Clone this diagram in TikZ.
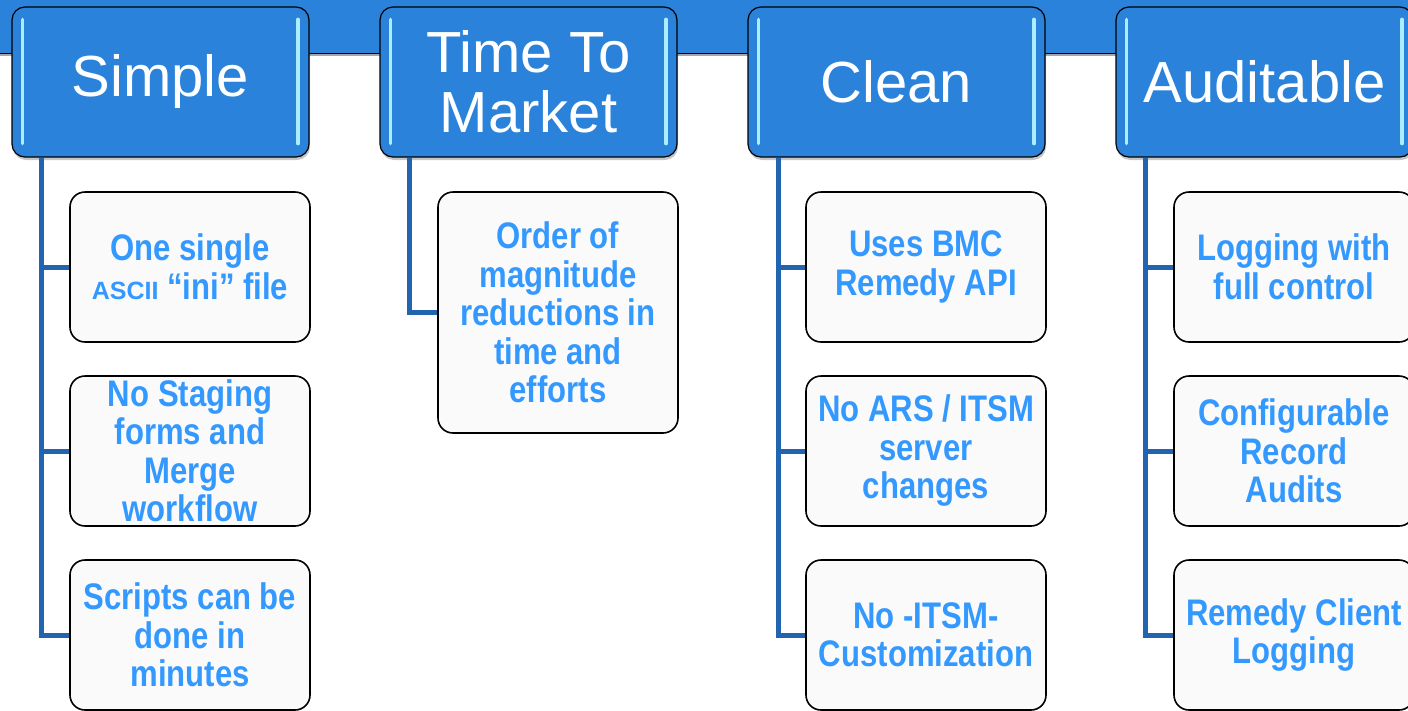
\documentclass[tikz,border=0pt]{standalone}
\usepackage{fontspec}
\setmainfont{Liberation Sans}
\newfontfamily\nb[FakeStretch=0.84]{Liberation Sans}
\usetikzlibrary{shadows,calc}
\definecolor{hdrblue}{RGB}{42,130,218}
\definecolor{txtblue}{RGB}{51,153,255}
\definecolor{connblue}{RGB}{33,100,175}
\definecolor{hilite}{RGB}{170,238,255}
\definecolor{childfill}{RGB}{250,250,250}
\begin{document}
\begin{tikzpicture}[x=1pt,y=-1pt,
  hdr/.style={draw=black, line width=1.2pt, fill=hdrblue, rounded corners=13pt,
    minimum width=297pt, minimum height=150pt, text=white, align=center, inner sep=0pt,
    font=\rmfamily\fontsize{58}{60}\selectfont,
    drop shadow={shadow xshift=1pt,shadow yshift=-3pt,opacity=0.45}},
  childbox/.style={draw=black, line width=1.6pt, fill=childfill, rounded corners=15pt,
    minimum width=240pt, minimum height=150pt, text=txtblue, align=center, inner sep=0pt,
    font=\nb\bfseries\fontsize{37}{38.5}\selectfont},
  conn/.style={draw=connblue, line width=5pt},
  hl/.style={draw=hilite, line width=3.5pt, line cap=round}]
\useasboundingbox (0,0) rectangle (1408,710);
\clip (0,0) rectangle (1408,710);
% top band
\fill[black!35] (0,53) rectangle (1408,56);
\fill[hdrblue] (0,0) rectangle (1408,53);
\draw[black, line width=1.2pt] (0,53.5) -- (1408,53.5);

% headers
\node[hdr] (h1) at (160.5,82) {Simple};
\node[hdr] (h2) at (528.5,82) {Time To\\Market};
\node[hdr] (h3) at (896.5,82) {Clean};
\node[hdr] (h4) at (1264.5,82) {Auditable};
\foreach \h in {h1,h2,h3,h4}{
  \draw[hl] ([shift={(11,13)}]\h.north west) -- ([shift={(11,-14)}]\h.south west);
  \draw[hl] ([shift={(-11.5,13)}]\h.north east) -- ([shift={(-11.5,-14)}]\h.south east);
}

% children
\node[childbox] (a1) at (190,267) {One single\\{\rmfamily\bfseries\fontsize{25}{25}\selectfont ASCII} “ini” file};
\node[childbox] (a2) at (190,451) {No Staging\\forms and\\Merge\\workflow};
\node[childbox] (a3) at (190,635) {Scripts can be\\done in\\minutes};

\node[childbox, minimum height=241pt] (b1) at (558,312.5) {Order of\\magnitude\\reductions in\\time and\\efforts};

\node[childbox] (c1) at (926,267) {Uses BMC\\Remedy API};
\node[childbox] (c2) at (926,451) {No ARS / ITSM\\server\\changes};
\node[childbox] (c3) at (926,635) {No -ITSM-\\Customization};

\node[childbox] (d1) at (1294,267) {Logging with\\full control};
\node[childbox] (d2) at (1294,451) {Configurable\\Record\\Audits};
\node[childbox] (d3) at (1294,635) {Remedy Client\\Logging};

% connectors
\draw[conn] ([xshift=30pt]h1.south west) |- (a3.west);
\draw[conn] ([xshift=30pt]h1.south west) |- (a1.west);
\draw[conn] ([xshift=30pt]h1.south west) |- (a2.west);
\draw[conn] ([xshift=30pt]h2.south west) |- (b1.west);
\draw[conn] ([xshift=31pt]h3.south west) |- (c3.west);
\draw[conn] ([xshift=31pt]h3.south west) |- (c1.west);
\draw[conn] ([xshift=31pt]h3.south west) |- (c2.west);
\draw[conn] ([xshift=30pt]h4.south west) |- (d3.west);
\draw[conn] ([xshift=30pt]h4.south west) |- (d1.west);
\draw[conn] ([xshift=30pt]h4.south west) |- (d2.west);
\end{tikzpicture}
\end{document}
